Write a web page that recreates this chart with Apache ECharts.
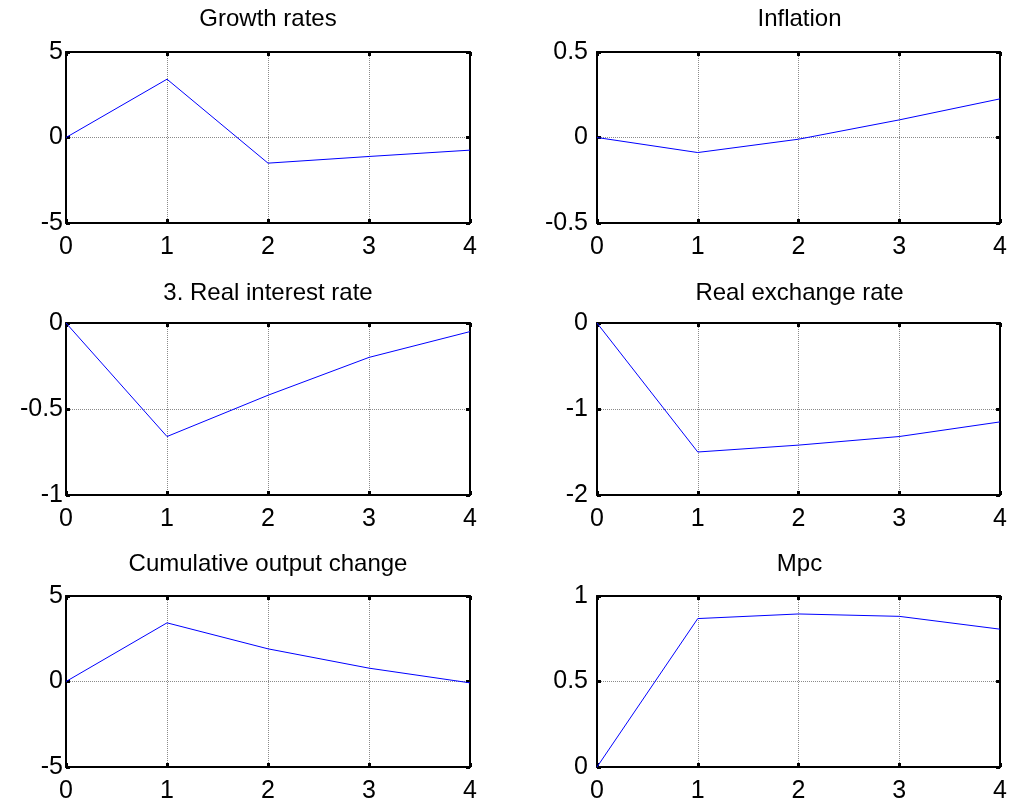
<!DOCTYPE html>
<html>
<head>
<meta charset="utf-8">
<script src="https://cdn.jsdelivr.net/npm/echarts@6/dist/echarts.min.js"></script>
<style>html,body{margin:0;padding:0;background:#fff;}#chart{width:1010px;height:805px;}</style>
</head>
<body>
<div id="chart"></div>
<script>
// ---- data ----
var periods = [0, 1, 2, 3, 4];
var xTicks = [0, 1, 2, 3, 4];
var growthRates = [0, 3.41, -1.5, -1.11, -0.74];
var inflation = [0, -0.088, -0.01, 0.103, 0.226];
var realInterestRate = [0, -0.66, -0.42, -0.2, -0.05];
var realExchangeRate = [0, -1.5, -1.42, -1.32, -1.15];
var cumulativeOutput = [0, 3.43, 1.91, 0.78, -0.08];
var mpc = [0, 0.868, 0.895, 0.881, 0.806];
var titles = ['Growth rates', 'Inflation', '3. Real interest rate', 'Real exchange rate', 'Cumulative output change', 'Mpc'];
var yMins = [-5, -0.5, -1, -2, -5, 0];
var yMaxs = [5, 0.5, 0, 0, 5, 1];
var yIntervals = [5, 0.5, 0.5, 1, 5, 0.5];
var seriesValues = [growthRates, inflation, realInterestRate, realExchangeRate, cumulativeOutput, mpc];

// ---- layout ----
var colLeft = [66, 597];
var colWidth = [404, 405];
var rowTop = [52, 323, 596];
var rowHeight = [171, 172, 171];
var titleY = [19, 293, 564];
var FONT = '"Liberation Sans", Arial, Helvetica, sans-serif';

var grids = [], xAxes = [], yAxes = [], series = [], graphics = [];
for (var i = 0; i < 6; i++) {
  var c = i % 2, r = Math.floor(i / 2);
  grids.push({left: colLeft[c], top: rowTop[r], width: colWidth[c], height: rowHeight[r], show: false});
  var lineStyle = {color: '#000', width: 2};
  var tick = {show: true, inside: true, length: 4, lineStyle: {color: '#000', width: 3}};
  var split = {show: true, lineStyle: {color: '#8a8a8a', type: [1, 1], width: 1}};
  xAxes.push({
    type: 'value', gridIndex: i, position: 'bottom', min: xTicks[0], max: xTicks[xTicks.length - 1], interval: 1,
    axisLine: {show: true, onZero: false, lineStyle: lineStyle},
    axisTick: tick,
    axisLabel: {show: true, color: '#000', fontFamily: FONT, fontSize: 25, margin: 12, showMinLabel: true, showMaxLabel: true},
    splitLine: split
  });
  xAxes.push({
    type: 'value', gridIndex: i, position: 'top', min: xTicks[0], max: xTicks[xTicks.length - 1], interval: 1,
    axisLine: {show: true, onZero: false, lineStyle: lineStyle},
    axisTick: tick, axisLabel: {show: false}, splitLine: {show: false}
  });
  yAxes.push({
    type: 'value', gridIndex: i, position: 'left', min: yMins[i], max: yMaxs[i], interval: yIntervals[i],
    axisLine: {show: true, onZero: false, lineStyle: lineStyle},
    axisTick: tick,
    axisLabel: {show: true, color: '#000', fontFamily: FONT, fontSize: 25, margin: c === 0 ? 3 : 9, padding: [6, 0, 0, 0], showMinLabel: true, showMaxLabel: true},
    splitLine: split
  });
  yAxes.push({
    type: 'value', gridIndex: i, position: 'right', min: yMins[i], max: yMaxs[i], interval: yIntervals[i],
    axisLine: {show: true, onZero: false, lineStyle: lineStyle},
    axisTick: tick, axisLabel: {show: false}, splitLine: {show: false}
  });
  series.push({
    type: 'line', xAxisIndex: 2 * i, yAxisIndex: 2 * i,
    data: periods.map(function (p, k) { return [p, seriesValues[i][k]]; }),
    showSymbol: false, symbol: 'none', smooth: false,
    lineStyle: {color: '#0000ff', width: 1}, z: 3
  });
  graphics.push({
    type: 'text', x: colLeft[c] + colWidth[c] / 2, y: titleY[r],
    style: {text: titles[i], fill: '#000', font: '24px ' + FONT, textAlign: 'center', textVerticalAlign: 'middle'}
  });
}

var chart = echarts.init(document.getElementById('chart'), null, {renderer: 'canvas'});
chart.setOption({
  animation: false,
  backgroundColor: '#fff',
  grid: grids, xAxis: xAxes, yAxis: yAxes, series: series, graphic: graphics
});
</script>
</body>
</html>
